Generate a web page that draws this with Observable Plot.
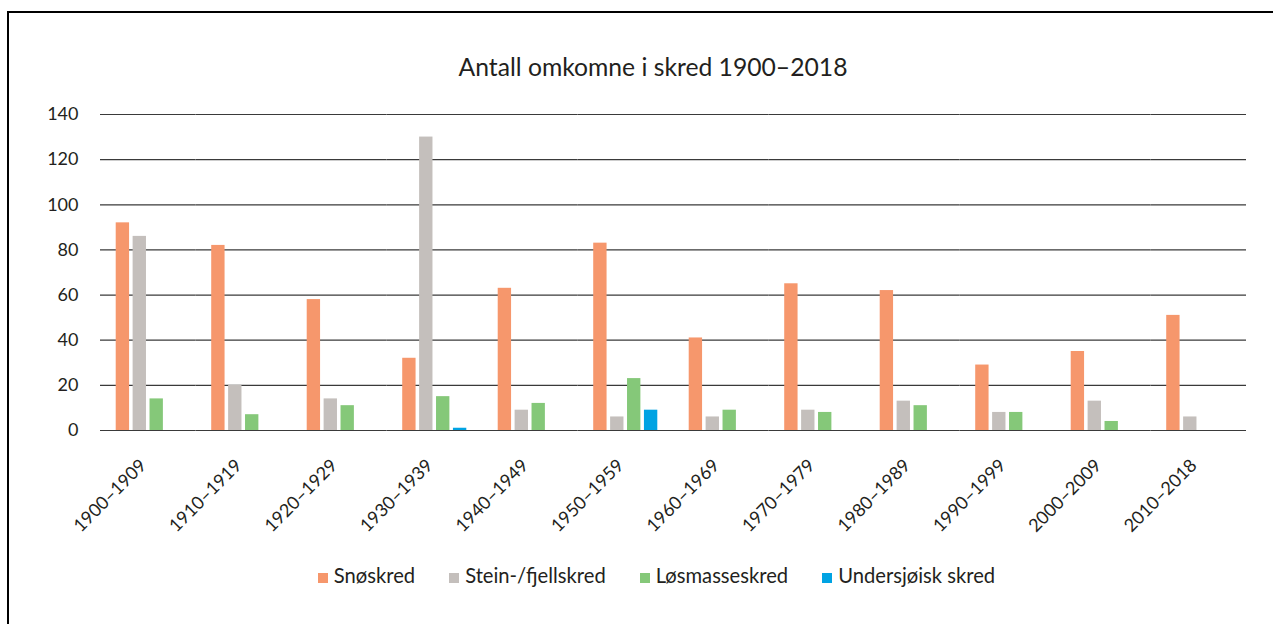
<!DOCTYPE html>
<html>
<head>
<meta charset="utf-8">
<script src="https://cdn.jsdelivr.net/npm/d3@7"></script>
<script src="https://cdn.jsdelivr.net/npm/@observablehq/plot@0.6"></script>
<style>
  html, body { margin: 0; padding: 0; background: #fff; overflow: hidden; }
  body { width: 1273px; height: 624px; position: relative; font-family: Lato, "Open Sans", sans-serif; color: #231f20; }
  #frame { position: absolute; left: 7px; top: 11px; width: 1288px; height: 700px; border: 2px solid #000; }
  #title { position: absolute; left: 9px; width: 1288px; top: 55px; text-align: center; font-size: 24.7px; line-height: 24px; white-space: nowrap; }
  #chart { position: absolute; left: 0; top: 0; }
  #legend { position: absolute; left: 9px; width: 1295px; top: 565px; text-align: center; font-size: 20.2px; line-height: 20px; white-space: nowrap; }
  .item { display: inline-block; margin: 0 17px; }
  .sw { display: inline-block; width: 10px; height: 10px; margin-right: 6px; vertical-align: baseline; }
</style>
</head>
<body>
<div id="frame"></div>
<div id="title">Antall omkomne i skred 1900–2018</div>
<div id="chart"></div>
<div id="legend"></div>
<script>
const decades = ["1900–1909","1910–1919","1920–1929","1930–1939","1940–1949","1950–1959","1960–1969","1970–1979","1980–1989","1990–1999","2000–2009","2010–2018"];
const seriesNames = ["Snøskred","Stein-/fjellskred","Løsmasseskred","Undersjøisk skred"];
const seriesColors = ["#f6976c","#c4bfbc","#85c879","#00a3e3"];
const snoskred    = [92, 82, 58, 32, 63, 83, 41, 65, 62, 29, 35, 51];
const steinskred  = [86, 20, 14, 130, 9, 6, 6, 9, 13, 8, 13, 6];
const losmasse    = [14, 7, 11, 15, 12, 23, 9, 8, 11, 8, 4, 0];
const undersjoisk = [0, 0, 0, 1, 0, 9, 0, 0, 0, 0, 0, 0];
const yTicks = [0, 20, 40, 60, 80, 100, 120, 140];

const seriesValues = [snoskred, steinskred, losmasse, undersjoisk];
const data = [];
decades.forEach((d, i) => {
  seriesNames.forEach((s, j) => {
    data.push({decade: d, series: s, value: seriesValues[j][i]});
  });
});

const W = 1273, H = 540, ML = 100, MR = 27, MT = 114, MB = 110;
const padInner = 0.29, padOuter = padInner / 2;
const halfGap = padOuter * (W - ML - MR) / decades.length;

const chart = Plot.plot({
  width: W,
  height: H,
  marginLeft: ML,
  marginRight: MR,
  marginTop: MT,
  marginBottom: MB,
  style: {fontFamily: "Lato, 'Open Sans', sans-serif", fontSize: "18px", color: "#231f20", background: "transparent", overflow: "visible"},
  fx: {domain: decades, paddingInner: padInner, paddingOuter: padOuter, round: false, label: null},
  x: {domain: seriesNames, paddingInner: 0.21, paddingOuter: 0.11, round: false, axis: null},
  y: {domain: [0, 140], label: null},
  color: {domain: seriesNames, range: seriesColors},
  marks: [
    Plot.ruleY(yTicks, {stroke: "#3a3a3a", strokeWidth: 1.2, insetLeft: -halfGap, insetRight: -halfGap}),
    Plot.barY(data, {fx: "decade", x: "series", y: "value", fill: "series"}),
    Plot.axisY({ticks: yTicks, tickSize: 0, tickPadding: 22 + halfGap, label: null, fontSize: 18}),
    Plot.axisFx({anchor: "bottom", tickRotate: -45, tickSize: 0, tickPadding: 32, dx: -5, label: null, fontSize: 18})
  ]
});
document.getElementById("chart").appendChild(chart);

const legend = document.getElementById("legend");
seriesNames.forEach((s, i) => {
  const it = document.createElement("span");
  it.className = "item";
  const sw = document.createElement("span");
  sw.className = "sw";
  sw.style.background = seriesColors[i];
  it.appendChild(sw);
  it.appendChild(document.createTextNode(s));
  legend.appendChild(it);
});
</script>
</body>
</html>
